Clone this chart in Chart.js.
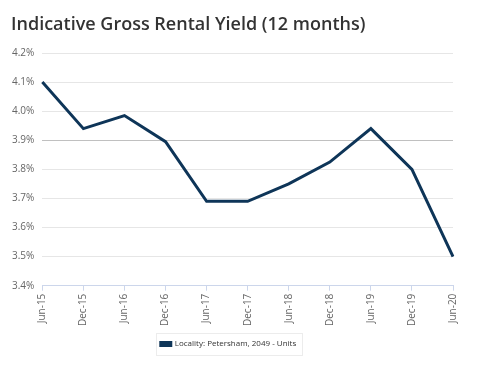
<!DOCTYPE html>
<html lang="en">
<head>
  <meta charset="UTF-8" />
  <title>Indicative Gross Rental Yield</title>
  <style>
    body { margin: 0; background: #fff; }
    #wrap { position: relative; width: 489px; height: 375px; }
    #wrap h1 {
      position: absolute; left: 11px; top: 12px; margin: 0;
      font-family: "Open Sans", sans-serif; font-size: 18px; font-weight: 600;
      color: #333333; line-height: 22px;
    }
  </style>
  <script src="https://cdn.jsdelivr.net/npm/chart.js"></script>
</head>
<body>
  <div id="wrap">
    <h1>Indicative Gross Rental Yield (12 months)</h1>
    <canvas id="yieldChart" width="489" height="375"></canvas>
  </div>
  <script>
    // data
    const periods = ["Jun-15", "Dec-15", "Jun-16", "Dec-16", "Jun-17", "Dec-17",
                     "Jun-18", "Dec-18", "Jun-19", "Dec-19", "Jun-20"];
    const yieldValues = [4.10, 3.94, 3.985, 3.895, 3.69, 3.69, 3.75, 3.825, 3.94, 3.80, 3.50];
    const seriesName = "Locality: Petersham, 2049 - Units";

    // thin box round the legend item only
    const legendBox = {
      id: "legendBox",
      afterDraw(chart) {
        const lg = chart.legend;
        if (!lg || !lg.legendHitBoxes || !lg.legendHitBoxes.length) return;
        const h = lg.legendHitBoxes[0];
        const ctx = chart.ctx;
        ctx.save();
        ctx.strokeStyle = "#ececec";
        ctx.lineWidth = 1;
        ctx.strokeRect(Math.round(h.left - 5) + 0.5, Math.round(h.top - 7) + 0.5,
                       Math.round(h.width + 11), Math.round(h.height + 14));
        ctx.restore();
      }
    };

    new Chart(document.getElementById("yieldChart"), {
      type: "line",
      data: {
        labels: periods,
        datasets: [{
          label: seriesName,
          data: yieldValues,
          borderColor: "#0e3558",
          backgroundColor: "#0e3558",
          borderWidth: 3,
          pointRadius: 0,
          tension: 0
        }]
      },
      options: {
        responsive: false,
        animation: false,
        layout: { padding: { left: 4, right: 36, top: 53, bottom: 17 } },
        plugins: {
          title: { display: false },
          legend: {
            position: "bottom",
            labels: {
              color: "#333333",
              boxWidth: 10,
              boxHeight: 3,
              padding: 11,
              font: { family: "Open Sans", size: 8 }
            }
          },
          tooltip: { enabled: false }
        },
        scales: {
          x: {
            border: { color: "#ccd6eb" },
            grid: { drawOnChartArea: false, color: "#ccd6eb", tickLength: 5 },
            ticks: {
              color: "#666666",
              maxRotation: 90,
              minRotation: 90,
              font: { family: "Open Sans", size: 10 }
            }
          },
          y: {
            min: 3.4,
            max: 4.2,
            border: { display: false },
            grid: {
              drawTicks: false,
              color: ctx => (ctx.tick && Math.abs(ctx.tick.value - 3.9) < 1e-6) ? "#c0c0c0" : "#e6e6e6"
            },
            ticks: {
              stepSize: 0.1,
              padding: 8,
              color: "#666666",
              font: { family: "Open Sans", size: 10 },
              callback: v => v.toFixed(1) + "%"
            }
          }
        }
      },
      plugins: [legendBox]
    });
  </script>
</body>
</html>
